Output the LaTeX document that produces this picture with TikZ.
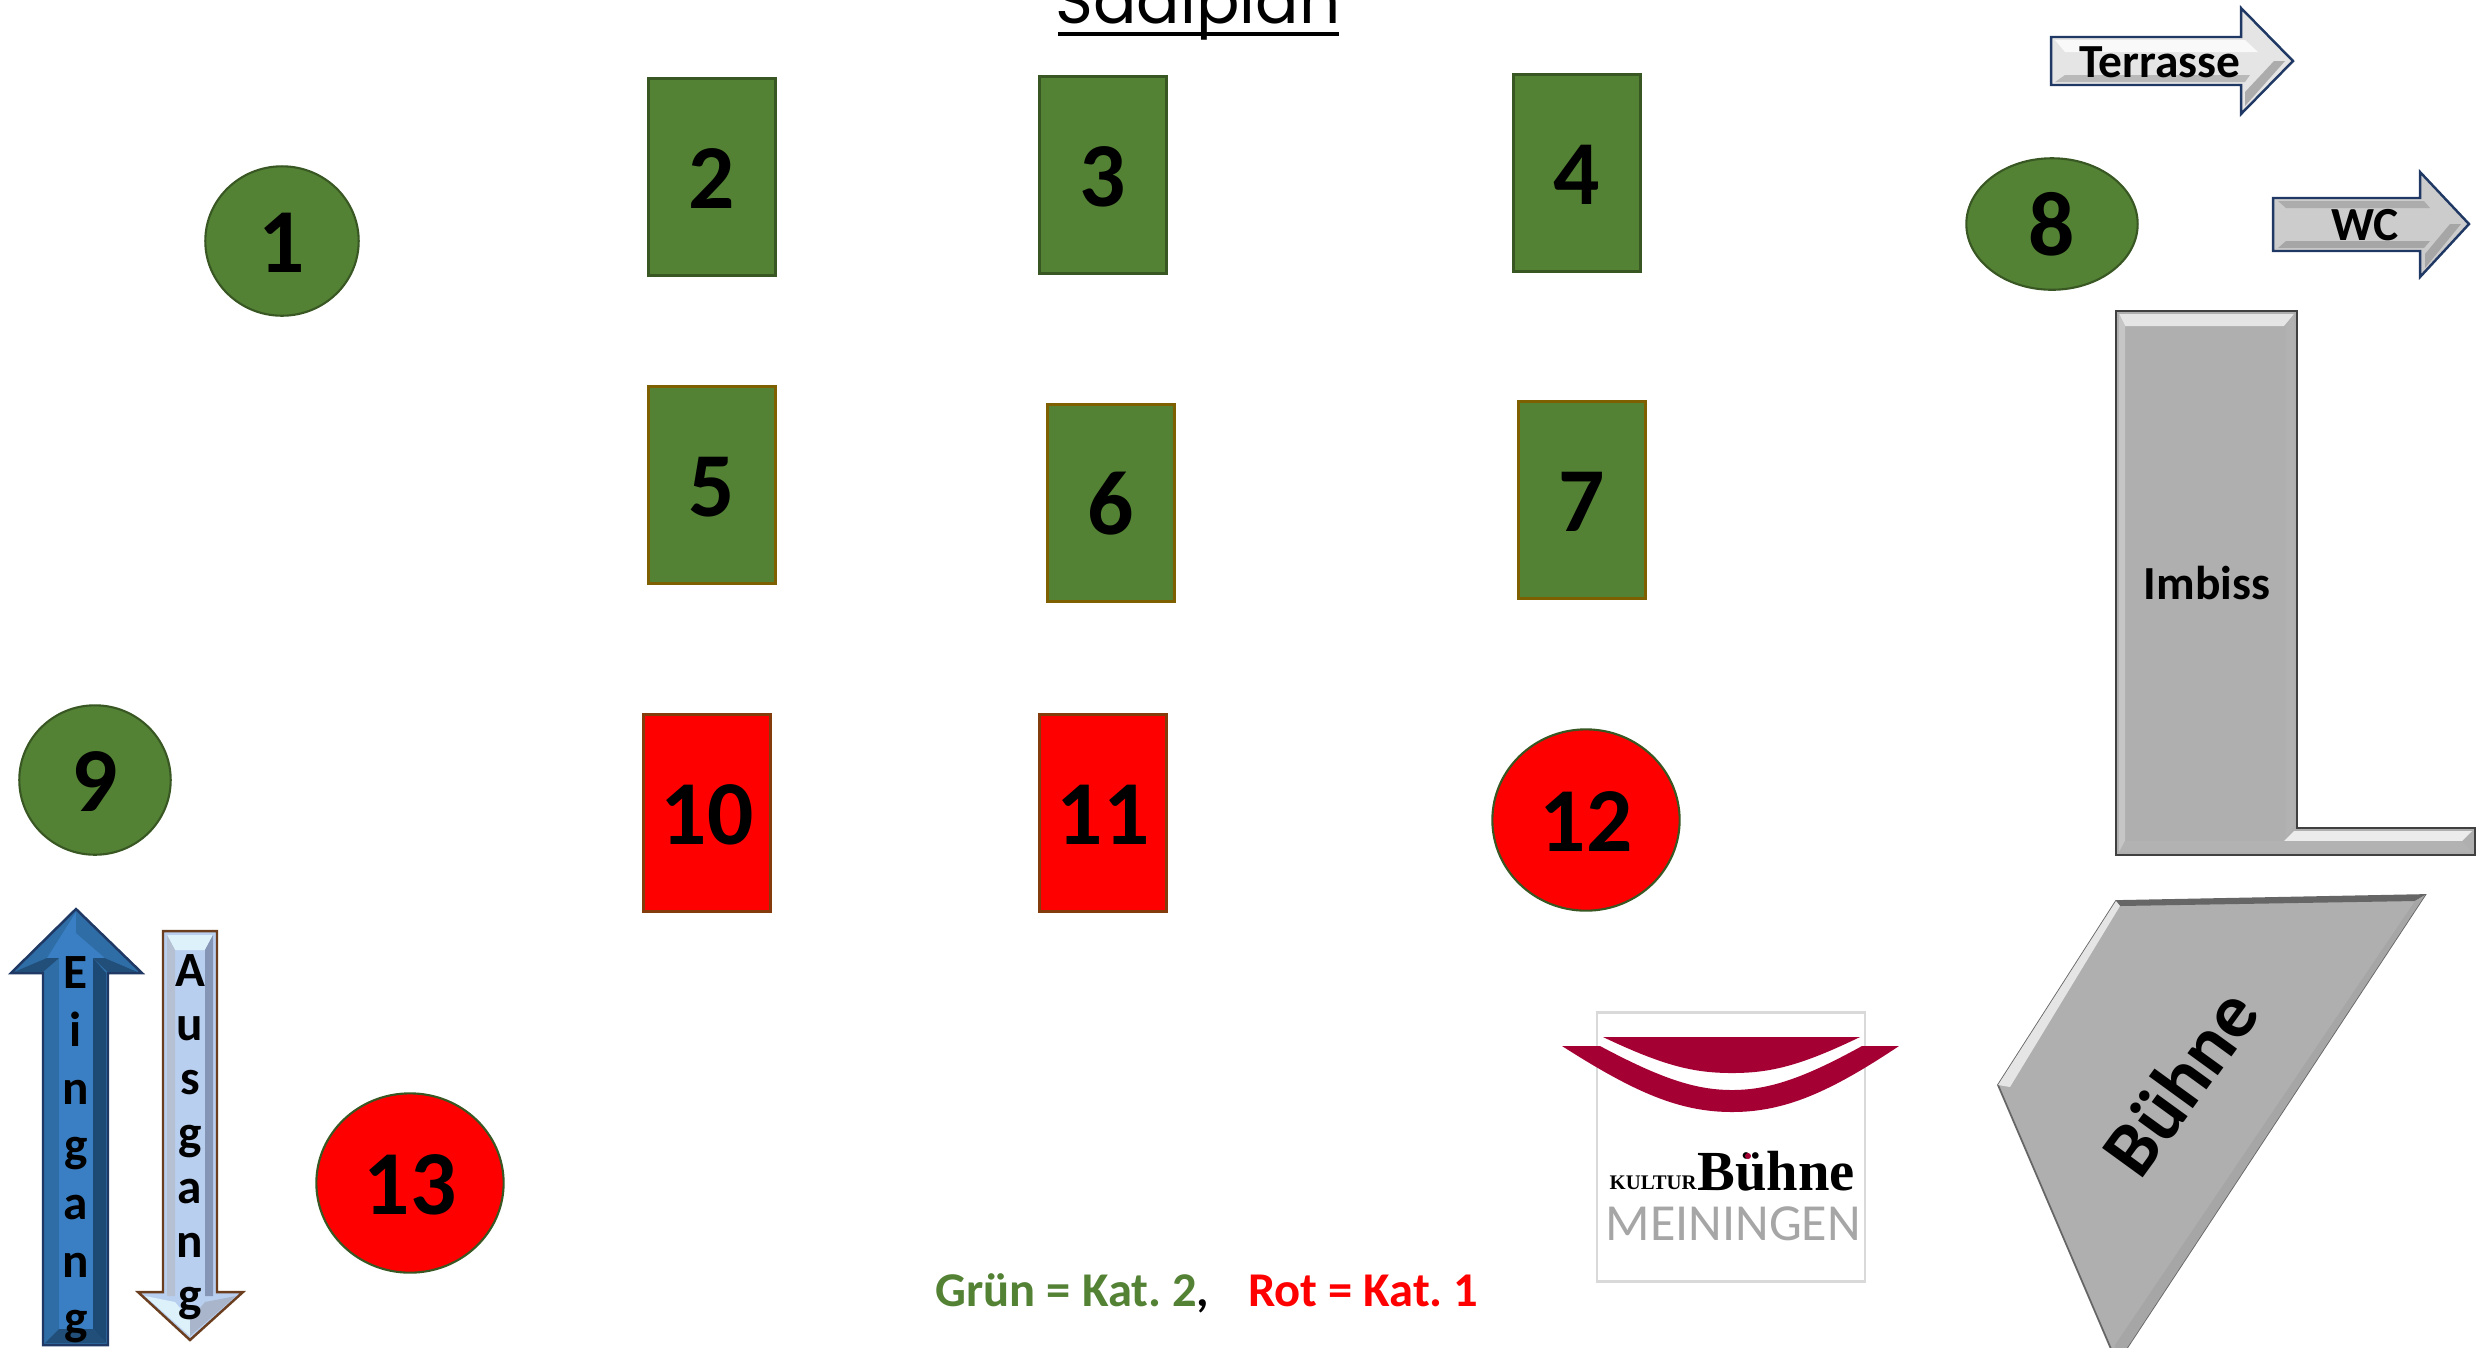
\documentclass[tikz,border=0pt]{standalone}
\usepackage{fontspec}
\setmainfont{Carlito}
\newfontfamily\titlefont{Poppins}
\newfontfamily\logofont{Liberation Serif}
\usetikzlibrary{shapes.geometric}
\definecolor{tablegreen}{HTML}{548235}
\definecolor{edgegreen}{HTML}{385723}
\definecolor{edgebrown}{HTML}{7F6000}
\definecolor{edgered}{HTML}{843C0C}
\definecolor{logored}{HTML}{A50034}
\definecolor{shapegray}{HTML}{AFAFAF}
\definecolor{signedge}{HTML}{1F3864}
\definecolor{inmid}{HTML}{3A7FC4}
\definecolor{inleft}{HTML}{2E6DA5}
\definecolor{inright}{HTML}{1D4A75}
\definecolor{indark}{HTML}{214F7A}
\definecolor{outfill}{HTML}{B9CFEF}
\definecolor{outlight}{HTML}{DCF1FA}
\definecolor{outside}{HTML}{8495B5}
\definecolor{outedge}{HTML}{6B3E1F}
\frenchspacing
\tikzset{
	tablerect/.style={rectangle,draw=edgegreen,line width=0.8pt,fill=tablegreen,minimum width=127pt/3.53,minimum height=197pt/3.53,inner sep=0pt,text height=18pt,text depth=0pt,font=\fontsize{26}{30}\selectfont\bfseries},
	tableround/.style={ellipse,draw=edgegreen,line width=0.6pt,fill=tablegreen,inner sep=0pt,text height=18pt,text depth=0pt,font=\fontsize{26}{30}\selectfont\bfseries},
	redtable/.style={fill=red},
	signlabel/.style={inner sep=0pt,font=\fontsize{13.5}{16}\selectfont\bfseries},
	letterlabel/.style={inner sep=0pt,align=center,anchor=north}
}
\begin{document}
\begin{tikzpicture}[x=0.01cm,y=-0.01cm]
	\clip (0,0) rectangle (2484,1347);
	% title
	\node[inner sep=0pt,anchor=base,font=\fontsize{18.3}{22}\titlefont] (title) at (1198,23) {Saalplan};
	\draw[line width=1.1pt] (1058,34) -- (1339,34);
	% tables
	\node[tablerect] (t2) at (712,177) {2};
	\node[tablerect] (t3) at (1103,175) {3};
	\node[tablerect] (t4) at (1577,173) {4};
	\node[tablerect,draw=edgebrown] (t5) at (712,485) {5};
	\node[tablerect,draw=edgebrown] (t6) at (1111,503) {6};
	\node[tablerect,draw=edgebrown] (t7) at (1582,500) {7};
	\node[tablerect,redtable,draw=edgered] (t10) at (707,813) {10};
	\node[tablerect,redtable,draw=edgered] (t11) at (1103,813) {11};
	\node[tableround,minimum width=154pt/3.53,minimum height=150pt/3.53] (t1) at (282,241) {1};
	\node[tableround,minimum width=172pt/3.53,minimum height=132pt/3.53] (t8) at (2052,224) {8};
	\node[tableround,minimum width=152pt/3.53,minimum height=150pt/3.53] (t9) at (95,780) {9};
	\node[tableround,redtable,minimum width=188pt/3.53,minimum height=182pt/3.53] (t12) at (1586,820) {12};
	\node[tableround,redtable,minimum width=188pt/3.53,minimum height=180pt/3.53] (t13) at (410,1183) {13};
	% terrasse arrow
	\fill[draw=signedge,line width=0.7pt,fill=gray!20] (2051,37) -- (2241,37) -- (2241,8) -- (2293,61) -- (2241,114) -- (2241,85) -- (2051,85) -- cycle;
	\fill[gray!5] (2055,40) -- (2245,40) -- (2258,52) -- (2065,52) -- cycle;
	\fill[gray!55] (2055,82) -- (2245,82) -- (2250,75) -- (2065,75) -- cycle;
	\fill[gray!65] (2245,106) -- (2285,61) -- (2274,61) -- (2245,92) -- cycle;
	\node[signlabel] (terrasse) at (2160,62) {Terrasse};
	% wc arrow
	\fill[draw=signedge,line width=0.7pt,fill=gray!40] (2273,198) -- (2420,198) -- (2420,172) -- (2469,224) -- (2420,277) -- (2420,251) -- (2273,251) -- cycle;
	\fill[gray!65] (2278,201) -- (2424,201) -- (2430,208) -- (2286,208) -- cycle;
	\fill[gray!70] (2278,248) -- (2424,248) -- (2430,241) -- (2286,241) -- cycle;
	\fill[gray!70] (2425,268) -- (2461,224) -- (2450,224) -- (2425,254) -- cycle;
	\node[signlabel] (wc) at (2365,225) {WC};
	% imbiss
	\fill[draw=black!75,line width=0.8pt,fill=shapegray] (2116,311) -- (2297,311) -- (2297,828) -- (2475,828) -- (2475,855) -- (2116,855) -- cycle;
	\fill[gray!20] (2119,314) -- (2294,314) -- (2284,326) -- (2125,326) -- cycle;
	\fill[gray!45] (2119,314) -- (2125,326) -- (2125,845) -- (2119,852) -- cycle;
	\fill[gray!60] (2294,314) -- (2294,825) -- (2286,838) -- (2286,326) -- cycle;
	\fill[gray!15] (2294,831) -- (2472,831) -- (2462,841) -- (2284,841) -- cycle;
	\fill[gray!60] (2119,852) -- (2472,852) -- (2462,841) -- (2125,841) -- cycle;
	\node[signlabel] (imbiss) at (2207,583) {Imbiss};
	% buehne
	\fill[draw=black!60,line width=0.5pt,fill=shapegray] (2116,901) -- (2425,895) -- (2117,1363) -- (1998,1085) -- cycle;
	\fill[black!60] (2116,901) -- (2425,895) -- (2415,901) -- (2120,906) -- cycle;
	\fill[gray!20] (2116,901) -- (2120,906) -- (2010,1087) -- (1998,1085) -- cycle;
	\fill[gray!70] (2425,895) -- (2415,901) -- (2115,1345) -- (2117,1363) -- cycle;
	\node[inner sep=0pt,rotate=54,font=\fontsize{22}{26}\selectfont\bfseries] (buehne) at (2180,1082) {Bühne};
	% logo
	\node[draw=black!15,line width=0.6pt,minimum width=269pt/3.53,minimum height=270pt/3.53,inner sep=0pt] (logobox) at (1731,1147) {};
	\fill[logored] (1603,1037) -- (1860,1037) .. controls (1800,1066) and (1770,1073) .. (1732,1073) .. controls (1694,1073) and (1664,1066) .. cycle;
	\fill[logored] (1562,1046) -- (1600,1046) .. controls (1660,1078) and (1695,1090) .. (1732,1090) .. controls (1769,1090) and (1804,1078) .. (1862,1046) -- (1899,1046) .. controls (1830,1092) and (1785,1112) .. (1732,1112) .. controls (1679,1112) and (1634,1092) .. cycle;
	\node[anchor=base west,inner sep=0pt,font=\fontsize{5.9}{7}\logofont\bfseries] (kultur) at (1609,1189) {KULTUR};
	\node[anchor=base west,inner sep=0pt,font=\fontsize{16.1}{19}\logofont\bfseries] (logoname) at (1697,1190) {Bühne};
	\node[anchor=base west,inner sep=0pt,text=gray!70,font=\fontsize{14.8}{17}\selectfont] (meiningen) at (1605,1240) {MEININGEN};
	% eingang arrow
	\fill[draw=signedge,line width=0.7pt,fill=inleft] (76,909) -- (142,973) -- (108,973) -- (108,1345) -- (43,1345) -- (43,973) -- (11,973) -- cycle;
	\fill[inmid] (76,933) -- (93,958) -- (93,1329) -- (59,1329) -- (59,958) -- cycle;
	\fill[inmid] (76,912) -- (105,958) -- (47,958) -- cycle;
	\fill[inright] (93,958) -- (93,1329) -- (106,1343) -- (106,973) -- cycle;
	\fill[indark] (45,1343) -- (106,1343) -- (93,1329) -- (59,1329) -- cycle;
	\fill[indark] (14,972) -- (43,972) -- (59,958) -- (47,958) -- cycle;
	\fill[indark] (138,972) -- (108,972) -- (93,958) -- (105,958) -- cycle;
	\fill[inleft] (76,912) -- (138,972) -- (105,958) -- (76,933) -- cycle;
	\node[letterlabel,font=\fontsize{14}{16.4}\selectfont\bfseries] (eingang) at (76,956) {E\\i\\n\\g\\a\\n\\g};
	% ausgang arrow
	\fill[draw=outedge,line width=0.7pt,fill=outfill] (163,931) -- (217,931) -- (217,1292) -- (243,1292) -- (190,1340) -- (138,1292) -- (163,1292) -- cycle;
	\fill[outlight] (167,935) -- (213,935) -- (205,950) -- (175,950) -- cycle;
	\fill[outside!60] (167,935) -- (175,950) -- (175,1296) -- (167,1296) -- cycle;
	\fill[outside] (213,935) -- (205,950) -- (205,1296) -- (213,1296) -- cycle;
	\fill[outlight] (145,1296) -- (190,1336) -- (190,1320) -- (175,1302) -- cycle;
	\fill[outside!70] (236,1296) -- (190,1336) -- (190,1320) -- (205,1302) -- cycle;
	\node[letterlabel,font=\fontsize{14}{15.4}\selectfont\bfseries] (ausgang) at (190,954) {A\\u\\s\\g\\a\\n\\g};
	% legend
	\node[anchor=base west,inner sep=0pt,font=\fontsize{13.8}{17}\selectfont\bfseries] (legend) at (935,1306) {\textcolor{tablegreen}{Grün = Kat. 2},\hspace{11pt}\textcolor{red}{Rot = Kat. 1}};
	\fill[logored] (1748,1156) circle (3);
\end{tikzpicture}
\end{document}
